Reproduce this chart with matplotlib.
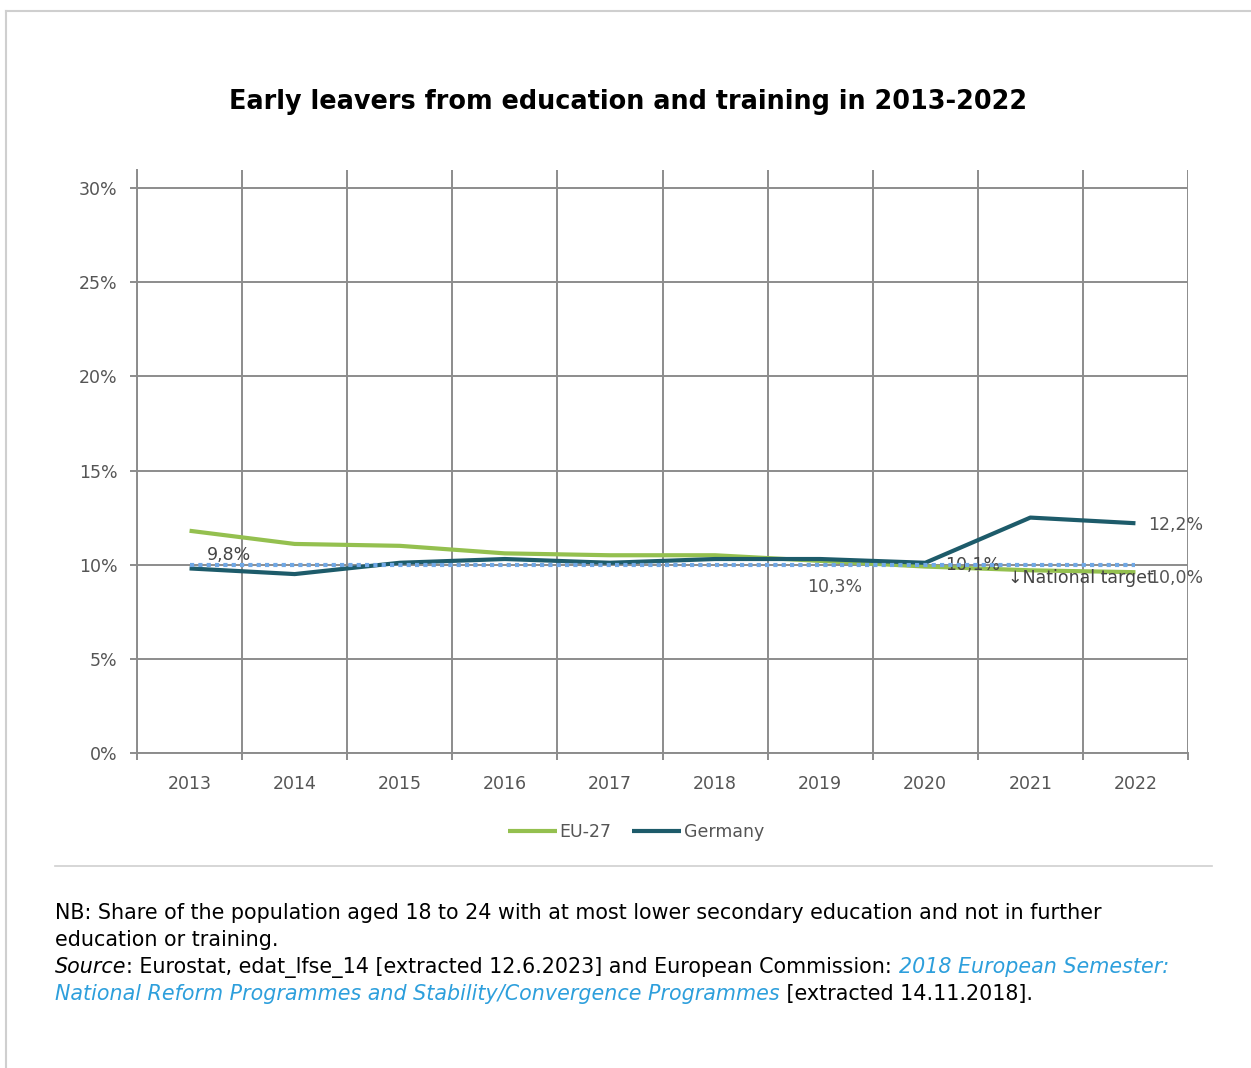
import matplotlib
matplotlib.use('Agg')
import matplotlib.pyplot as plt
from matplotlib.lines import Line2D

years = ['2013', '2014', '2015', '2016', '2017', '2018', '2019', '2020', '2021', '2022']
eu27 = [11.8, 11.1, 11.0, 10.6, 10.5, 10.5, 10.2, 9.9, 9.7, 9.6]
germany = [9.8, 9.5, 10.1, 10.3, 10.1, 10.3, 10.3, 10.1, 12.5, 12.2]
national_target = [10.0] * 10
y_ticks = [0, 5, 10, 15, 20, 25, 30]

GRID = '#8c8c8c'
GREEN = '#94c04f'
TEAL = '#1d5b6a'
TARGET = '#6fa8e6'
LABEL = '#555555'

W, H = 1251, 1068
fig = plt.figure(figsize=(W / 100, H / 100), dpi=100)


def px_x(x):
    return x / W


def px_y(y):
    return 1 - y / H


# page frame lines
fig.add_artist(Line2D([px_x(6), 1], [px_y(11), px_y(11)], color='#cfcfcf', lw=1.5))
fig.add_artist(Line2D([px_x(6), px_x(6)], [px_y(11), 0], color='#cfcfcf', lw=1.5))
fig.add_artist(Line2D([px_x(55), px_x(1212)], [px_y(866), px_y(866)], color='#cfcfcf', lw=1.2))

ax = fig.add_axes([px_x(137), px_y(753), px_x(1188 - 137), (753 - 170) / H])
x = list(range(len(years)))
ymax = 30 * (753 - 170) / (753 - 188)

ax.plot(x, eu27, color=GREEN, lw=3, zorder=3, label='EU-27', solid_capstyle='butt')
ax.plot(x, germany, color=TEAL, lw=3, zorder=4, label='Germany', solid_capstyle='butt')
ax.plot(x, national_target, color=TARGET, lw=3, ls=(0, (1, 1)), zorder=5)

ax.set_xlim(-0.5, len(years) - 0.5)
ax.set_ylim(0, ymax)
ax.set_xticks(x)
ax.set_xticklabels(years)
ax.set_xticks([i - 0.5 for i in range(len(years) + 1)], minor=True)
ax.set_yticks(y_ticks)
ax.set_yticklabels([f'{v}%' for v in y_ticks])

ax.tick_params(axis='x', which='major', length=0, pad=16, labelsize=12.5, labelcolor=LABEL)
ax.tick_params(axis='x', which='minor', length=5, width=1.4, color=GRID)
ax.tick_params(axis='y', length=5, width=1.4, color=GRID, pad=9, labelsize=12.5, labelcolor=LABEL)

ax.grid(axis='x', which='minor', color=GRID, lw=1.4, zorder=1)
ax.grid(axis='y', which='major', color=GRID, lw=1.4, zorder=1)
for s in ['top', 'right']:
    ax.spines[s].set_visible(False)
for s in ['left', 'bottom']:
    ax.spines[s].set_color(GRID)
    ax.spines[s].set_linewidth(1.4)
ax.set_axisbelow(True)

# data labels
ax.annotate('9,8%', (0, germany[0]), xytext=(39, 13), textcoords='offset pixels',
            ha='center', va='center', fontsize=12.5, color='#444444')
ax.annotate('10,3%', (6, germany[6]), xytext=(15, -28), textcoords='offset pixels',
            ha='center', va='center', fontsize=12.5, color=LABEL)
ax.annotate('10,1%', (7, germany[7]), xytext=(47, -2), textcoords='offset pixels',
            ha='center', va='center', fontsize=12.5, color='#444444')
ax.annotate('12,2%', (9, germany[9]), xytext=(13, -2), textcoords='offset pixels',
            ha='left', va='center', fontsize=12.5, color=LABEL)
ax.annotate('\u2193National target', (8, national_target[8]), xytext=(-22, -13),
            textcoords='offset pixels', ha='left', va='center', fontsize=12.5, color='#444444')
ax.annotate('10,0%', (9, national_target[9]), xytext=(13, -13), textcoords='offset pixels',
            ha='left', va='center', fontsize=12.5, color=LABEL)

leg = fig.legend(handles=ax.get_lines()[:2], loc='center', bbox_to_anchor=(px_x(636), px_y(832)),
                 ncol=2, frameon=False, fontsize=12.5, handlelength=2.8, handletextpad=0.15,
                 columnspacing=1.2, labelcolor=LABEL)

fig.text(px_x(628), px_y(102), 'Early leavers from education and training in 2013-2022',
         ha='center', va='center', fontsize=18.4, fontweight='bold')

# footnote, drawn piece by piece
renderer = fig.canvas.get_renderer()
BLUE = '#2d9fdc'
FS = 14.9


def text_row(x0, y0, pieces):
    xc = x0
    for s, style, color in pieces:
        t = fig.text(px_x(xc), px_y(y0), s, ha='left', va='center', fontsize=FS,
                     style=style, color=color)
        bb = t.get_window_extent(renderer)
        xc += bb.width


text_row(55, 913, [('NB: Share of the population aged 18 to 24 with at most lower secondary '
                    'education and not in further', 'normal', 'black')])
text_row(55, 940, [('education or training.', 'normal', 'black')])
text_row(55, 967, [('Source', 'italic', 'black'),
                   (': Eurostat, edat_lfse_14 [extracted 12.6.2023] and European Commission: ',
                    'normal', 'black'),
                   ('2018 European Semester:', 'italic', BLUE)])
text_row(55, 994, [('National Reform Programmes and Stability/Convergence Programmes', 'italic', BLUE),
                   (' [extracted 14.11.2018].', 'normal', 'black')])

fig.savefig('out.png', dpi=100)
